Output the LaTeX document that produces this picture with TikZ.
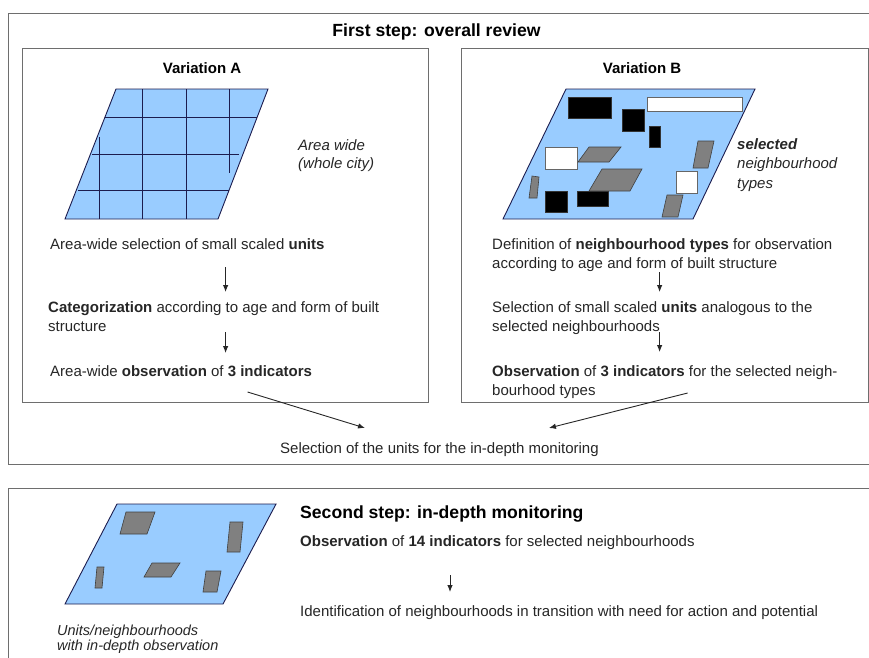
\documentclass[tikz,border=0pt]{standalone}
\usepackage{fontspec}
\setmainfont{Liberation Sans}
\usetikzlibrary{arrows.meta,calc}

\definecolor{mapblue}{RGB}{153,204,255}
\definecolor{mapline}{RGB}{28,28,78}
\definecolor{boxgray}{RGB}{110,110,110}
\definecolor{blockgray}{RGB}{128,128,128}

\tikzset{
  frame/.style={draw=boxgray,line width=1.2pt,inner sep=0pt,anchor=north west},
  map/.style={fill=mapblue,draw=mapline,line width=0.9pt},
  gridline/.style={draw=mapline,line width=0.9pt},
  blk/.style={fill=black,draw=black!80,line width=0.6pt},
  wht/.style={fill=white,draw=black!60,line width=0.6pt},
  gry/.style={fill=blockgray,draw=black!75,line width=0.6pt},
  note/.style={anchor=base west,inner sep=0pt,text=black!85,font=\fontsize{15}{19}\selectfont},
  head/.style={inner sep=0pt,font=\fontsize{17.6}{21}\selectfont\bfseries},
  subhead/.style={anchor=base,inner sep=0pt,font=\fontsize{15}{19}\selectfont\bfseries},
  flow/.style={-{Latex[length=7pt,width=5.5pt]},line width=0.9pt,black!85},
}

\begin{document}
\begin{tikzpicture}[x=1pt,y=-1pt]
  \useasboundingbox (0,0) rectangle (869,657);
  \clip (0,0) rectangle (869,657);

  % frames
  \node[frame,minimum width=880pt,minimum height=451pt] (first) at (8,13) {};
  \node[frame,minimum width=880pt,minimum height=220pt] (second) at (8,488) {};
  \node[frame,minimum width=406pt,minimum height=354pt] (boxA) at (22,48) {};
  \node[frame,minimum width=407pt,minimum height=354pt] (boxB) at (461,48) {};

  % headings
  \node[head,anchor=base] (title) at (436.5,36) {First step: overall review};
  \node[subhead] (varA) at (202,73) {Variation A};
  \node[subhead] (varB) at (642,73) {Variation B};

  % map A: whole city with grid
  \draw[map] (116,89) -- (268,89) -- (218,219) -- (65,219) -- cycle;
  \draw[gridline] (142,89) -- (142,219);
  \draw[gridline] (186,89) -- (186,219);
  \draw[gridline] (229,89) -- (229,173);
  \draw[gridline] (99,137) -- (99,219);
  \draw[gridline] (105,117) -- (257,117);
  \draw[gridline] (92,154) -- (239,154);
  \draw[gridline] (78,190) -- (229,190);
  \node[note,font=\fontsize{15}{19}\selectfont\itshape] (areaA1) at (298,150) {Area wide};
  \node[note,font=\fontsize{15}{19}\selectfont\itshape] (areaA2) at (298,168) {(whole city)};

  % map B: neighbourhood types
  \draw[map] (566,89) -- (755,89) -- (693,219) -- (503,219) -- cycle;
  \draw[blk] (568,97) rectangle (611,118);
  \draw[wht] (647,97) rectangle (742,111);
  \draw[blk] (622,109) rectangle (644,131);
  \draw[blk] (649,126) rectangle (660,147);
  \draw[wht] (545,147) rectangle (577,169);
  \draw[gry] (578,162) -- (589,147) -- (621,147) -- (609,162) -- cycle;
  \draw[gry] (589,191) -- (602,169) -- (642,169) -- (630,191) -- cycle;
  \draw[gry] (529,198) -- (532,176) -- (539,177) -- (537,198) -- cycle;
  \draw[blk] (545,191) rectangle (567,212);
  \draw[blk] (577,191) rectangle (608,206);
  \draw[gry] (693,168) -- (698,141) -- (714,141) -- (708,168) -- cycle;
  \draw[wht] (676,171) rectangle (697,193);
  \draw[gry] (662,217) -- (667,195) -- (683,195) -- (678,217) -- cycle;
  \node[note,font=\fontsize{15}{19}\selectfont\bfseries\itshape] (typesB1) at (737,149) {selected};
  \node[note,font=\fontsize{15}{19}\selectfont\itshape] (typesB2) at (737,168) {neighbourhood};
  \node[note,font=\fontsize{15}{19}\selectfont\itshape] (typesB3) at (737,188) {types};

  % steps of variation A
  \node[note] (selA) at (50,249) {Area-wide selection of small scaled \textbf{units}};
  \node[note] (catA1) at (48,312) {\textbf{Categorization} according to age and form of built};
  \node[note] (catA2) at (48,331) {structure};
  \node[note] (obsA) at (50,376) {Area-wide \textbf{observation} of \textbf{3 indicators}};

  % steps of variation B
  \node[note] (defB1) at (492,249) {Definition of \textbf{neighbourhood types} for observation};
  \node[note] (defB2) at (492,268) {according to age and form of built structure};
  \node[note] (selB1) at (492,312) {Selection of small scaled \textbf{units} analogous to the};
  \node[note] (selB2) at (492,331) {selected neighbourhoods};
  \node[note] (obsB1) at (492,376) {\textbf{Observation} of \textbf{3 indicators} for the selected neigh-};
  \node[note] (obsB2) at (492,395) {bourhood types};

  \node[note] (units) at (280,453) {Selection of the units for the in-depth monitoring};

  % arrows inside the boxes
  \draw[flow] ($(selA.base -| boxA.north)+(0,18)$) -- ($(catA1.base -| boxA.north)+(0,-20)$);
  \draw[flow] ($(catA2.base -| boxA.north)+(0,1)$) -- ($(obsA.base -| boxA.north)+(0,-23)$);
  \draw[flow] ($(defB2.base -| boxB.north)+(-5.5,4)$) -- ($(selB1.base -| boxB.north)+(-5.5,-20)$);
  \draw[flow] ($(selB2.base -| boxB.north)+(-5.5,1)$) -- ($(obsB1.base -| boxB.north)+(-5.5,-24)$);

  % both variations lead to the selection
  \draw[flow] ($(obsA.base -| boxA.north)+(22,16)$) -- ($(units.base west)+(85,-25)$);
  \draw[flow] ($(obsB2.base -| boxB.north)+(22.5,-2)$) -- ($(units.base east)+(-50,-25)$);

  % second step
  \draw[map] (117,504) -- (276,504) -- (223,604) -- (65,604) -- cycle;
  \draw[gry] (120,534) -- (126,512) -- (155,512) -- (147,534) -- cycle;
  \draw[gry] (227,552) -- (230,522) -- (243,522) -- (240,552) -- cycle;
  \draw[gry] (144,577) -- (152,563) -- (180,563) -- (171,577) -- cycle;
  \draw[gry] (95,588) -- (97,567) -- (104,567) -- (102,588) -- cycle;
  \draw[gry] (203,592) -- (206,571) -- (221,571) -- (217,592) -- cycle;
  \node[note,font=\fontsize{14.5}{15}\selectfont\itshape] (depth1) at (57,635) {Units/neighbourhoods};
  \node[note,font=\fontsize{14.5}{15}\selectfont\itshape] (depth2) at (57,650) {with in-depth observation};

  \node[head,anchor=base west] (title2) at (300,518) {Second step: in-depth monitoring};
  \node[note] (obs14) at (300,546) {\textbf{Observation} of \textbf{14 indicators} for selected neighbourhoods};
  \node[note] (ident) at (300,616) {Identification of neighbourhoods in transition with need for action and potential};
  \draw[flow] ($(obs14.base west)+(150,29)$) -- ($(ident.base west)+(150,-24)$);
\end{tikzpicture}
\end{document}
